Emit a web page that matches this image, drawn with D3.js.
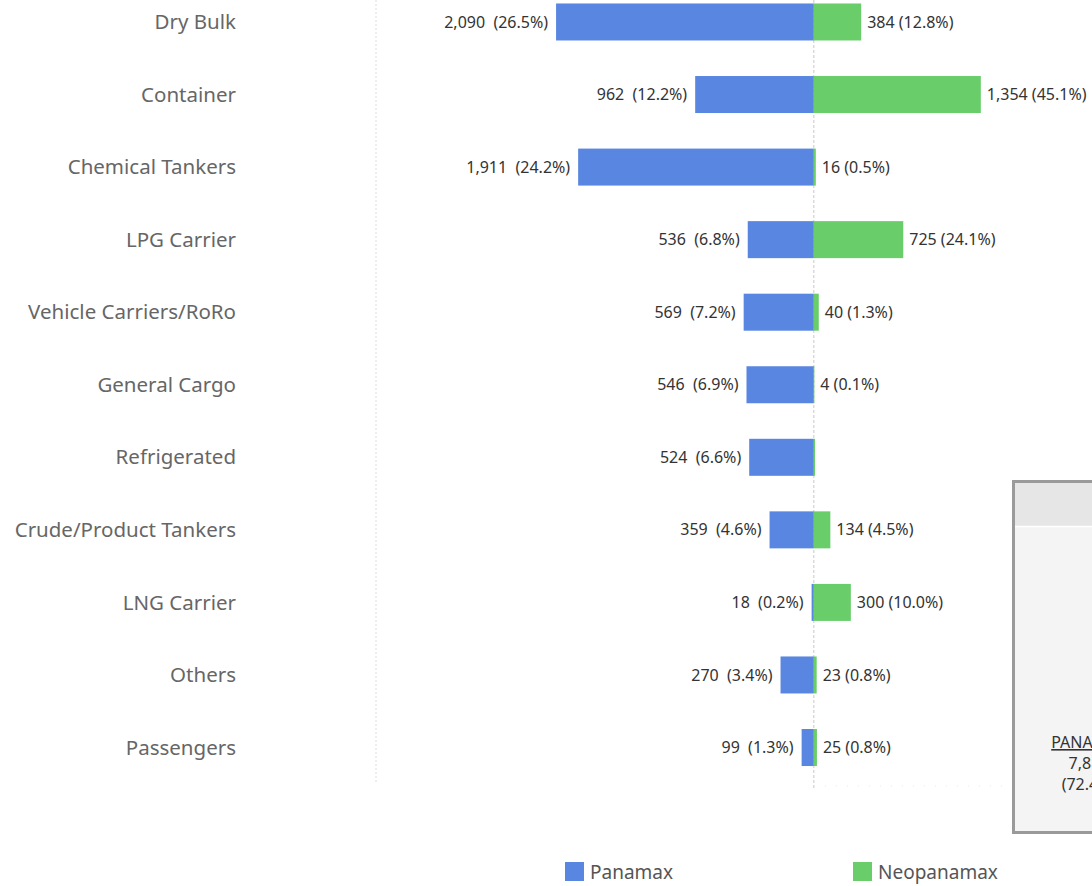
<!DOCTYPE html>
<html>
<head>
<meta charset="utf-8">
<script src="https://cdn.jsdelivr.net/npm/d3@7"></script>
<style>
  html, body { margin: 0; padding: 0; background: #fff; overflow: hidden; }
  svg { display: block; font-family: "Noto Sans", sans-serif; }
</style>
</head>
<body>
<script>
const categories = ["Dry Bulk", "Container", "Chemical Tankers", "LPG Carrier", "Vehicle Carriers/RoRo",
    "General Cargo", "Refrigerated", "Crude/Product Tankers", "LNG Carrier", "Others", "Passengers"];
const panamax = [2090, 962, 1911, 536, 569, 546, 524, 359, 18, 270, 99];
const panamaxPct = ["26.5%", "12.2%", "24.2%", "6.8%", "7.2%", "6.9%", "6.6%", "4.6%", "0.2%", "3.4%", "1.3%"];
const neopanamax = [384, 1354, 16, 725, 40, 4, 10, 134, 300, 23, 25];
const neopanamaxPct = ["12.8%", "45.1%", "0.5%", "24.1%", "1.3%", "0.1%", null, "4.5%", "10.0%", "0.8%", "0.8%"];
const seriesNames = ["Panamax", "Neopanamax"];
const colors = ["#5986e0", "#69cd6a"];
const boxLines = ["PANAMAX", "7,884", "(72.4%)"];

const W = 1092, H = 886;
const svg = d3.select("body").append("svg").attr("width", W).attr("height", H);

const x = d3.scaleLinear().domain([-3550, 1550]).range([376, 1005]);
const y = d3.scaleBand().domain(categories).range([-14.3, 783.8])
    .paddingInner(0.49).paddingOuter(0.245);
const fmt = d3.format(",");

// grid lines
svg.append("line").attr("x1", 376).attr("x2", 376).attr("y1", 0).attr("y2", 784)
    .attr("stroke", "#dcdcdc").attr("stroke-dasharray", "2,2");
svg.append("line").attr("x1", x(0)).attr("x2", x(0)).attr("y1", 0).attr("y2", 790)
    .attr("stroke", "#c8c8c8").attr("stroke-dasharray", "3,2");
svg.append("line").attr("x1", x(0)).attr("x2", 1005).attr("y1", 786).attr("y2", 786)
    .attr("stroke", "#e6e6e6").attr("stroke-dasharray", "1,10");

// category labels
svg.append("g").selectAll("text").data(categories).join("text")
    .attr("x", 236).attr("y", d => y(d) + y.bandwidth() / 2)
    .attr("dy", "0.35em").attr("text-anchor", "end")
    .attr("fill", "#666").style("font-size", "20.5px").text(d => d);

// panamax bars
svg.append("g").selectAll("rect").data(panamax).join("rect")
    .attr("x", d => x(-d)).attr("width", d => x(0) - x(-d))
    .attr("y", (d, i) => y(categories[i])).attr("height", y.bandwidth())
    .attr("fill", colors[0]);

svg.append("g").selectAll("text").data(panamax).join("text")
    .attr("x", d => x(-d) - 8).attr("y", (d, i) => y(categories[i]) + y.bandwidth() / 2)
    .attr("dy", "0.35em").attr("text-anchor", "end")
    .attr("fill", "#333").style("font-size", "16px")
    .attr("xml:space", "preserve")
    .text((d, i) => fmt(d) + "  (" + panamaxPct[i] + ")");

// neopanamax bars
svg.append("g").selectAll("rect").data(neopanamax).join("rect")
    .attr("x", x(0)).attr("width", d => x(d) - x(0))
    .attr("y", (d, i) => y(categories[i])).attr("height", y.bandwidth())
    .attr("fill", colors[1]);

svg.append("g").selectAll("text").data(neopanamax).join("text")
    .attr("x", d => x(d) + 6).attr("y", (d, i) => y(categories[i]) + y.bandwidth() / 2)
    .attr("dy", "0.35em").attr("fill", "#333").style("font-size", "16px")
    .text((d, i) => neopanamaxPct[i] ? fmt(d) + " (" + neopanamaxPct[i] + ")" : "");

// summary box on the right (cut by the page edge, as in the original)
const box = svg.append("g");
box.append("rect").attr("x", 1013.5).attr("y", 481.5).attr("width", 120).attr("height", 351)
    .attr("fill", "#f4f4f4").attr("stroke", "#9a9a9a").attr("stroke-width", 3);
box.append("rect").attr("x", 1015).attr("y", 483).attr("width", 120).attr("height", 43)
    .attr("fill", "#e6e6e6");
box.append("line").attr("x1", 1015).attr("x2", 1135).attr("y1", 526.5).attr("y2", 526.5)
    .attr("stroke", "#fff").attr("stroke-width", 1.5);
box.selectAll("text.box").data(boxLines).join("text")
    .attr("class", "box")
    .attr("x", 1089).attr("y", (d, i) => 748 + i * 21)
    .attr("text-anchor", "middle").attr("fill", "#333").style("font-size", "16px")
    .attr("text-decoration", (d, i) => i === 0 ? "underline" : null)
    .text(d => d);

// legend
const legend = svg.append("g").selectAll("g").data(seriesNames).join("g")
    .attr("transform", (d, i) => `translate(${565 + i * 288},862)`);
legend.append("rect").attr("width", 19).attr("height", 19).attr("fill", (d, i) => colors[i]);
legend.append("text").attr("x", 25).attr("y", 10).attr("dy", "0.35em")
    .attr("fill", "#555").style("font-size", "19px").text(d => d);
</script>
</body>
</html>
